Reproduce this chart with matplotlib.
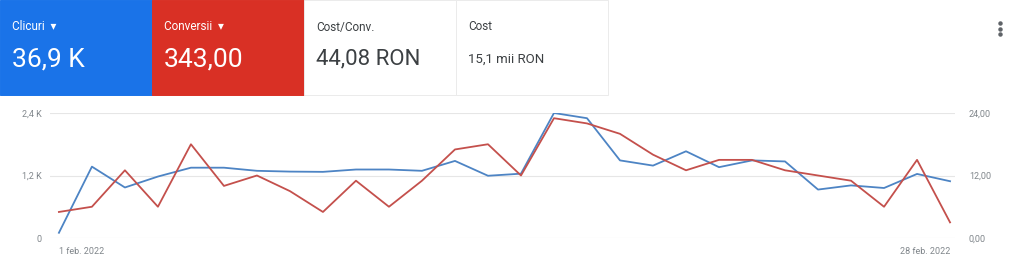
import matplotlib.pyplot as plt
from matplotlib.patches import Rectangle
from matplotlib.ticker import FixedLocator

plt.rcParams['font.family'] = ['Roboto', 'DejaVu Sans']

# daily values, 1-28 feb 2022
days = list(range(1, 29))
clicks = [100, 1370, 970, 1180, 1350, 1350, 1290, 1275, 1270, 1315, 1315, 1290,
          1480, 1195, 1235, 2400, 2300, 1490, 1390, 1665, 1360, 1490, 1470,
          930, 1010, 960, 1230, 1090]
conversions = [5, 6, 13, 6, 18, 10, 12, 9, 5, 11, 6, 11, 17, 18, 12, 23, 22, 20,
               16, 13, 15, 15, 13, 12, 11, 6, 15, 3]

cards = ["Clicuri", "Conversii", "Cost/Conv.", "Cost"]
card_values = ["36,9 K", "343,00", "44,08 RON", "15,1 mii RON"]
left_ticks = [0, 1200, 2400]
left_labels = ["0", "1,2 K", "2,4 K"]
right_ticks = [0, 12, 24]
right_labels = ["0,00", "12,00", "24,00"]
date_labels = ["1 feb. 2022", "28 feb. 2022"]

W, H = 1024, 271
fig = plt.figure(figsize=(W / 100, H / 100), dpi=100)
fig.patch.set_facecolor("white")

# overlay in pixel coords for the header cards
bg = fig.add_axes([0, 0, 1, 1])
bg.set_xlim(0, W)
bg.set_ylim(H, 0)
bg.axis("off")

card_bg = ["#1a73e8", "#d93025", "white", "white"]
lab_col = ["white", "white", "#3c4043", "#3c4043"]
val_size = [19, 19, 16, 9.5]
for i in range(4):
    x0 = i * 152
    bg.add_patch(Rectangle((x0, 0), 152, 95, facecolor=card_bg[i],
                           edgecolor="#ebebeb" if i > 1 else card_bg[i], lw=0.7))
    lab = cards[i] + ("  \u25BE" if i < 2 else "")
    bg.text(x0 + 12, 27, lab, color=lab_col[i], fontsize=8.5, va="center")
    bg.text(x0 + 12, 59, card_values[i], color=lab_col[i],
            fontsize=val_size[i], va="center")
for yy in (23, 29, 34):
    bg.plot([1000], [yy], "o", color="#5f6368", ms=2.2)

ax = fig.add_axes([50 / W, (H - 238) / H, 905 / W, 125 / H])
ax.plot(days, clicks, color="#4d84c4", lw=1.3, zorder=3)
ax.set_xlim(0.73, 28.15)
ax.set_ylim(0, 2400)
ax2 = ax.twinx()
ax2.plot(days, conversions, color="#c4504c", lw=1.3, zorder=3)
ax2.set_ylim(0, 24)

for a in (ax, ax2):
    for s in a.spines.values():
        s.set_visible(False)
    a.tick_params(length=0, labelsize=6.5, labelcolor="#80868b", pad=6)
ax.yaxis.set_major_locator(FixedLocator(left_ticks))
ax.set_yticklabels(left_labels)
ax2.yaxis.set_major_locator(FixedLocator(right_ticks))
ax2.set_yticklabels(right_labels)
ax2.tick_params(pad=10)
ax.grid(axis="y", color="#e6e6e6", lw=0.8)
ax.set_axisbelow(True)
ax.set_xticks([])
ax.text(days[0], -0.07, date_labels[0], transform=ax.get_xaxis_transform(),
        ha="left", va="top", fontsize=6.5, color="#80868b")
ax.text(days[-1], -0.07, date_labels[1], transform=ax.get_xaxis_transform(),
        ha="right", va="top", fontsize=6.5, color="#80868b")

fig.savefig("out.png", dpi=100)
